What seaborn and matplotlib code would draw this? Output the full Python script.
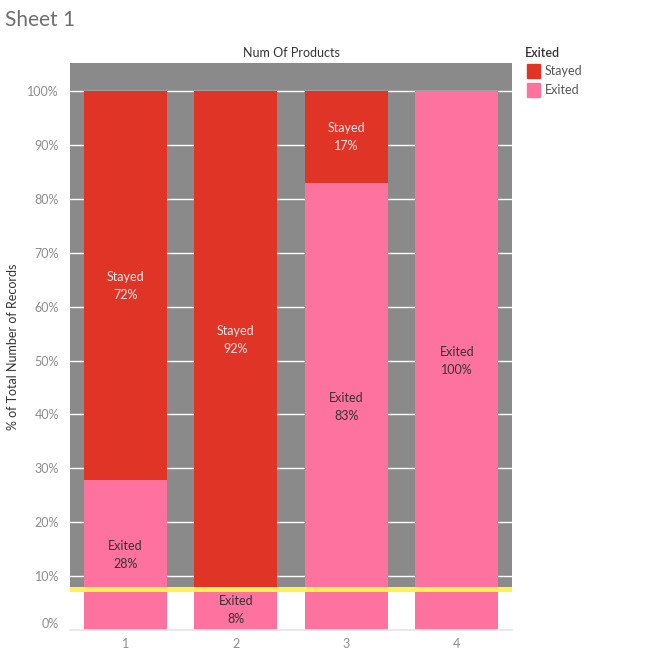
import pandas as pd
import numpy as np
import seaborn as sns
import matplotlib.pyplot as plt

# 数据
products = ["1", "2", "3", "4"]
exited_pct = [27.8, 7.6, 82.9, 100.0]
stayed_pct = [72.2, 92.4, 17.1, 0.0]
exited_lbl = ["28%", "8%", "83%", "100%"]
stayed_lbl = ["72%", "92%", "17%", ""]
y_ticks = [0, 10, 20, 30, 40, 50, 60, 70, 80, 90, 100]

red = "#E03427"
pink = "#FE729F"
grey_bg = "#8A8A8A"
yellow = "#FFF155"

sns.set_theme(style="white")
plt.rcParams['font.family'] = ['Lato', 'DejaVu Sans']

df = pd.DataFrame({"product": products, "exited": exited_pct, "stayed": stayed_pct})
df["total"] = df["exited"] + df["stayed"]

fig = plt.figure(figsize=(6.63, 6.5), dpi=100)
ax = fig.add_axes([70 / 663, 1 - 630 / 650, 442 / 663, 567 / 650])

# 背景: 8%以上灰色
ax.axhspan(8, 106, color=grey_bg, zorder=0, lw=0)

sns.barplot(data=df, x="product", y="total", color=red, width=0.75,
            saturation=1, ax=ax, zorder=2, linewidth=0)
sns.barplot(data=df, x="product", y="exited", color=pink, width=0.75,
            saturation=1, ax=ax, zorder=2, linewidth=0)

# 黄色参考线
ax.axhspan(7.0, 8.0, color=yellow, zorder=4, lw=0)

for i in range(len(products)):
    e = exited_pct[i]
    s = stayed_pct[i]
    ax.text(i, e / 2, "Exited\n" + exited_lbl[i], ha="center", va="center",
            fontsize=9, color="#333333", linespacing=1.6, zorder=5)
    if s > 0:
        ax.text(i, e + s / 2, "Stayed\n" + stayed_lbl[i], ha="center", va="center",
                fontsize=9, color="#F5E6E6", linespacing=1.6, zorder=5)

ax.set_ylim(0, 105.2)
ax.set_xlim(-0.5, 3.5)
ax.set_yticks(y_ticks)
ax.set_yticklabels([f"{t}%" for t in y_ticks])
ax.yaxis.grid(True, color="white", lw=1)
ax.set_axisbelow(True)

ax.tick_params(axis="y", length=0, labelsize=9, labelcolor="#8C8C8C", pad=8)
ax.tick_params(axis="x", which="major", length=0, labelsize=9, labelcolor="#8C8C8C", pad=6)
ax.set_xticks([-0.5, 0.5, 1.5, 2.5, 3.5], minor=True)
ax.tick_params(axis="x", which="minor", length=5, color="#E0E0E0", width=1)
for lab in ax.get_yticklabels():
    if lab.get_text() == "0%":
        lab.set_va("bottom")

for side in ["top", "right", "left"]:
    ax.spines[side].set_visible(False)
ax.spines["bottom"].set_color("#E6E6E6")

ax.set_xlabel("")
ax.set_ylabel("% of Total Number of Records", fontsize=9, color="#333333", labelpad=6)

fig.text(0.5 * (70 + 512) / 663, 1 - 53 / 650, "Num Of Products", ha="center",
         va="center", fontsize=9, color="#333333")
fig.text(5 / 663, 1 - 20 / 650, "Sheet 1", ha="left", va="center",
         fontsize=15, color="#6E6E6E")

# 图例
fig.text(525 / 663, 1 - 53 / 650, "Exited", ha="left", va="center",
         fontsize=9, color="#333333", fontweight="semibold")
for k, (name, c) in enumerate([("Stayed", red), ("Exited", pink)]):
    yc = 71 + k * 19
    fig.patches.append(plt.Rectangle((527 / 663, 1 - (yc + 7) / 650), 13 / 663, 14 / 650,
                                     transform=fig.transFigure, color=c, figure=fig))
    fig.text(545 / 663, 1 - yc / 650, name, ha="left", va="center",
             fontsize=9, color="#555555")

fig.savefig("out.png", dpi=100)
